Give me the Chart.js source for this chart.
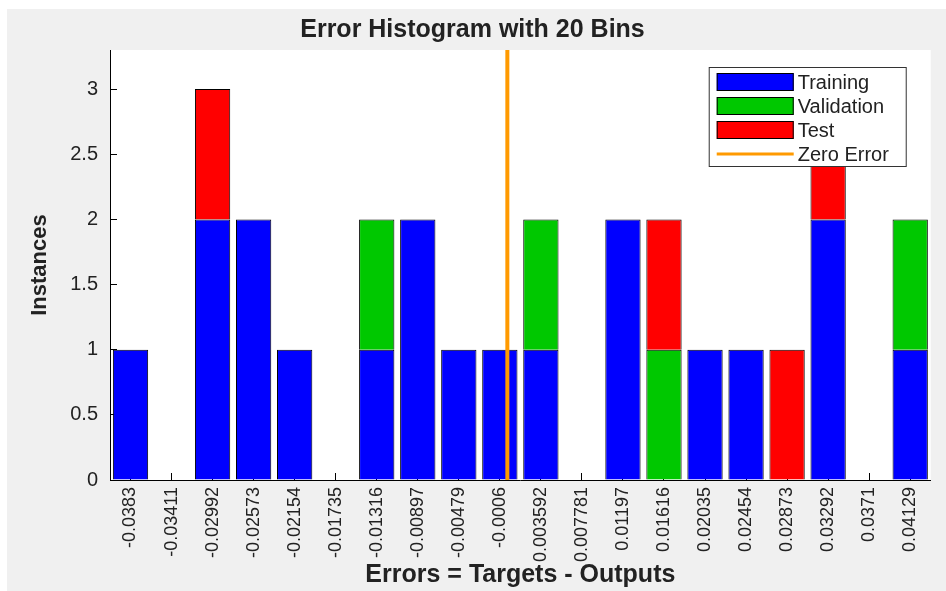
<!DOCTYPE html>
<html>
<head>
<meta charset="utf-8">
<script src="https://cdn.jsdelivr.net/npm/chart.js@4"></script>
<style>
  html, body { margin:0; padding:0; background:#fff; }
  #wrap { position:absolute; left:7px; top:9px; width:939px; height:582px; background:#f0f0f0; }
</style>
</head>
<body>
<div id="wrap"><canvas id="histChart" width="939" height="582"></canvas></div>
<script>
// bin centres as printed under the bars
const binLabels = ['-0.0383', '-0.03411', '-0.02992', '-0.02573', '-0.02154', '-0.01735', '-0.01316',
  '-0.00897', '-0.00479', '-0.0006', '0.003592', '0.007781', '0.01197', '0.01616', '0.02035',
  '0.02454', '0.02873', '0.03292', '0.0371', '0.04129'];

const training   = [1, 0, 2, 2, 1, 0, 1, 2, 1, 1, 1, 0, 2, 0, 1, 1, 0, 2, 0, 1];
const validation = [0, 0, 0, 0, 0, 0, 1, 0, 0, 0, 1, 0, 0, 1, 0, 0, 0, 0, 0, 1];
const test       = [0, 0, 1, 0, 0, 0, 0, 0, 0, 0, 0, 0, 0, 1, 0, 0, 1, 1, 0, 0];

const zeroError = 0;
const yMax = 3.3;

// edges of the bin range, so the zero line sits at its real position
const centers = binLabels.map(Number);
const binStep = (centers[centers.length - 1] - centers[0]) / (centers.length - 1);
const edgeMin = centers[0] - binStep / 2;
const edgeMax = centers[centers.length - 1] + binStep / 2;

const textColor = '#222';
const fontFamily = '"Liberation Sans", Arial, sans-serif';

// white plot background (before the scales, so the inward ticks stay visible)
const plotBg = {
  id: 'plotBg',
  beforeDraw(chart) {
    const {ctx, chartArea: a} = chart;
    ctx.save();
    ctx.fillStyle = '#fff';
    ctx.fillRect(a.left, a.top, a.right - a.left, a.bottom - a.top);
    ctx.restore();
  }
};

// boxed legend inside the top-right of the plot, drawn over the bars
const boxLegend = {
  id: 'boxLegend',
  afterDraw(chart) {
    const {ctx, chartArea} = chart;
    const w = 197, h = 99;
    const x = chartArea.right - 25 - w, y = chartArea.top + 17;
    ctx.save();
    ctx.fillStyle = '#fff';
    ctx.fillRect(x, y, w, h);
    ctx.strokeStyle = '#333';
    ctx.lineWidth = 1;
    ctx.strokeRect(x + 0.5, y + 0.5, w, h);
    ctx.font = '20px ' + fontFamily;
    ctx.textBaseline = 'middle';
    chart.data.datasets.forEach((ds, i) => {
      const cy = y + 15 + i * 24;
      if (ds.type === 'line') {
        ctx.strokeStyle = ds.borderColor;
        ctx.lineWidth = 3;
        ctx.beginPath();
        ctx.moveTo(x + 8, cy);
        ctx.lineTo(x + 85, cy);
        ctx.stroke();
      } else {
        ctx.fillStyle = ds.backgroundColor;
        ctx.fillRect(x + 8, cy - 9, 77, 18);
        ctx.strokeStyle = '#000';
        ctx.lineWidth = 1;
        ctx.strokeRect(x + 8.5, cy - 8.5, 76, 17);
      }
      ctx.fillStyle = textColor;
      ctx.fillText(ds.label, x + 89, cy + 1);
    });
    ctx.restore();
  }
};

const barStyle = {
  borderColor: '#000', borderWidth: 1, grouped: false,
  barPercentage: 0.86, categoryPercentage: 1, order: 1
};

// short tick marks pointing into the plot, like the MATLAB axes
const inwardTicks = {
  display: true, drawOnChartArea: false, drawTicks: true,
  tickLength: -7, tickColor: '#000', tickWidth: 1, color: '#000'
};

const ctx = document.getElementById('histChart').getContext('2d');
const histChart = new Chart(ctx, {
  type: 'bar',
  data: {
    labels: binLabels,
    datasets: [
      { label: 'Training', data: training, backgroundColor: '#0000ff', ...barStyle },
      { label: 'Validation', data: validation, backgroundColor: '#00c800', ...barStyle },
      { label: 'Test', data: test, backgroundColor: '#ff0000', ...barStyle },
      {
        label: 'Zero Error', type: 'line', xAxisID: 'x2',
        data: [{ x: zeroError, y: 0 }, { x: zeroError, y: yMax }],
        borderColor: '#ff9a00', borderWidth: 4, pointRadius: 0, order: 0
      }
    ]
  },
  options: {
    responsive: false,
    devicePixelRatio: 1,
    animation: false,
    layout: { padding: { left: 0, right: 8, top: 0, bottom: 0 } },
    plugins: {
      legend: { display: false },
      tooltip: { enabled: false },
      title: {
        display: true,
        text: 'Error Histogram with 20 Bins',
        color: textColor,
        font: { family: fontFamily, size: 25, weight: 'bold' },
        padding: { top: 6, bottom: 5 }
      }
    },
    scales: {
      x: {
        stacked: true,
        grid: { ...inwardTicks, offset: false },
        border: { display: true, color: '#000', width: 1 },
        ticks: {
          autoSkip: false, maxRotation: 90, minRotation: 90, padding: 14,
          color: textColor, font: { family: fontFamily, size: 18 }
        },
        title: {
          display: true, text: 'Errors = Targets - Outputs', color: textColor,
          font: { family: fontFamily, size: 25, weight: 'bold' },
          padding: { top: 0, bottom: 1 }
        },
        afterFit(scale) { scale.height = 111; }
      },
      x2: { type: 'linear', display: false, min: edgeMin, max: edgeMax },
      y: {
        stacked: true, min: 0, max: yMax,
        grid: inwardTicks,
        border: { display: true, color: '#000', width: 1 },
        ticks: {
          stepSize: 0.5, includeBounds: false, padding: 19,
          color: textColor, font: { family: fontFamily, size: 20 },
          callback: v => String(v)
        },
        title: {
          display: true, text: 'Instances', color: textColor,
          font: { family: fontFamily, size: 22, weight: 'bold' },
          padding: { top: 20, bottom: 0 }
        },
        afterFit(scale) { scale.width = 103; }
      }
    }
  },
  plugins: [plotBg, boxLegend]
});
</script>
</body>
</html>
